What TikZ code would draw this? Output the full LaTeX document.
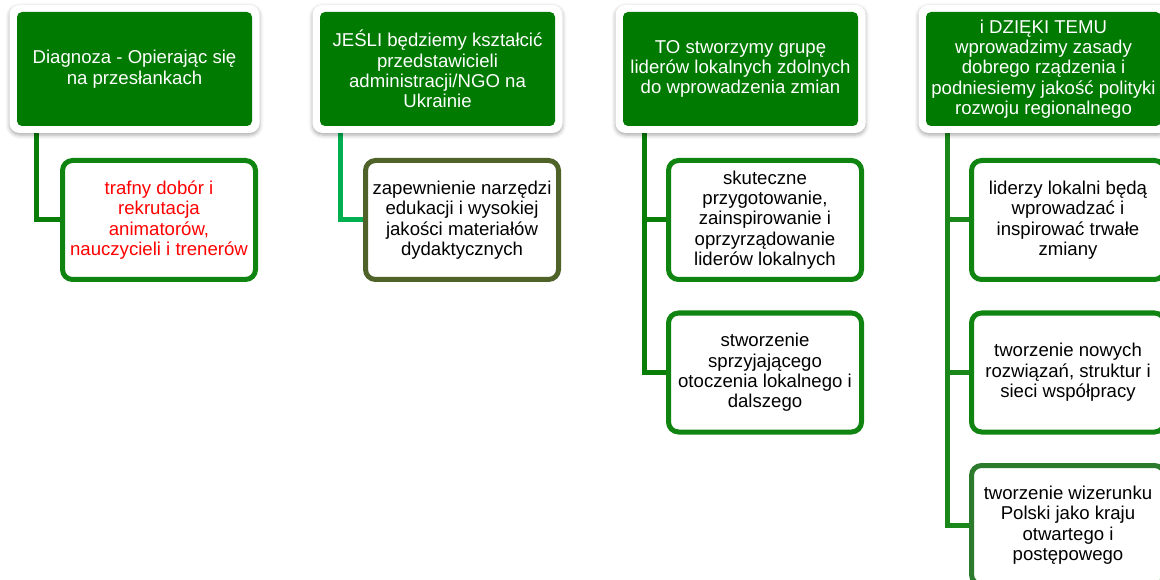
\documentclass[tikz,border=0pt]{standalone}
\usepackage{fontspec}
\setmainfont{Liberation Sans}
\usetikzlibrary{shadows.blur,backgrounds}
\definecolor{headgreen}{RGB}{0,122,0}
\definecolor{cgreen}{RGB}{16,132,16}
\definecolor{conngreen}{RGB}{8,125,8}
\definecolor{lightconn}{RGB}{0,176,80}
\definecolor{olive}{RGB}{79,98,40}
\definecolor{darkgreen}{RGB}{44,122,44}
\newcommand{\fsz}{\fontsize{18.6}{20.4}\selectfont}
\tikzset{
  frame/.style={fill=white, rounded corners=10pt, minimum width=250pt, minimum height=128pt, inner sep=0pt,
    blur shadow={shadow xshift=0pt, shadow yshift=-2pt, shadow blur radius=4pt, shadow opacity=35}},
  head/.style={fill=headgreen, rounded corners=5pt, minimum width=235pt, minimum height=114pt,
    text=white, align=center, font=\fsz, inner sep=0pt},
  child/.style={draw=cgreen, line width=5pt, fill=white, rounded corners=10pt, minimum width=193pt,
    minimum height=119pt, align=center, font=\fsz, inner sep=0pt},
  conn/.style={line width=5pt, draw=conngreen, line join=miter}
}
\begin{document}
\begin{tikzpicture}[x=1pt, y=-1pt]
\useasboundingbox (0,0) rectangle (1160,580);
% frames and heads
\node[frame] (f1) at (134.5,69) {};
\node[frame] (f2) at (437.5,69) {};
\node[frame] (f3) at (740.5,69) {};
\node[frame] (f4) at (1043.5,69) {};
\node[head] (h1) at (f1) {Diagnoza - Opierając się\\na przesłankach};
\node[head] (h2) at (f2) {JEŚLI będziemy kształcić\\przedstawicieli\\administracji/NGO na\\Ukrainie};
\node[head] (h3) at (f3) {TO stworzymy grupę\\liderów lokalnych zdolnych\\do wprowadzenia zmian};
\node[head] (h4) at (f4) {i DZIĘKI TEMU\\wprowadzimy zasady\\dobrego rządzenia i\\podniesiemy jakość polityki\\rozwoju regionalnego};
% children
\node[child, text=red] (c1) at (159,220) {trafny dobór i\\rekrutacja\\animatorów,\\nauczycieli i trenerów};
\node[child, draw=olive] (c2) at (462,220) {zapewnienie narzędzi\\edukacji i wysokiej\\jakości materiałów\\dydaktycznych};
\node[child] (c3a) at (765,220) {skuteczne\\przygotowanie,\\zainspirowanie i\\oprzyrządowanie\\liderów lokalnych};
\node[child] (c3b) at (765,372.5) {stworzenie\\sprzyjającego\\otoczenia lokalnego i\\dalszego};
\node[child] (c4a) at (1068,220) {liderzy lokalni będą\\wprowadzać i\\inspirować trwałe\\zmiany};
\node[child] (c4b) at (1068,372.5) {tworzenie nowych\\rozwiązań, struktur i\\sieci współpracy};
\node[child, draw=darkgreen] (c4c) at (1068,525) {tworzenie wizerunku\\Polski jako kraju\\otwartego i\\postępowego};
% connector starts
\coordinate (k1) at ([xshift=20pt]h1.south west);
\coordinate (k2) at ([xshift=21pt]h2.south west);
\coordinate (k3) at ([xshift=22pt]h3.south west);
\coordinate (k4) at ([xshift=22pt]h4.south west);
% connectors
\begin{pgfonlayer}{background}
\draw[conn] (k1) |- (c1.west);
\draw[conn, draw=lightconn] (k2) |- (c2.west);
\draw[conn] (k3) |- (c3b.west);
\draw[conn] (k3) |- (c3a.west);
\draw[conn, draw=headgreen!90!white] (k4) |- (c4c.west);
\draw[conn, draw=headgreen!90!white] (k4) |- (c4b.west);
\draw[conn, draw=headgreen!90!white] (k4) |- (c4a.west);
\end{pgfonlayer}
\end{tikzpicture}
\end{document}
